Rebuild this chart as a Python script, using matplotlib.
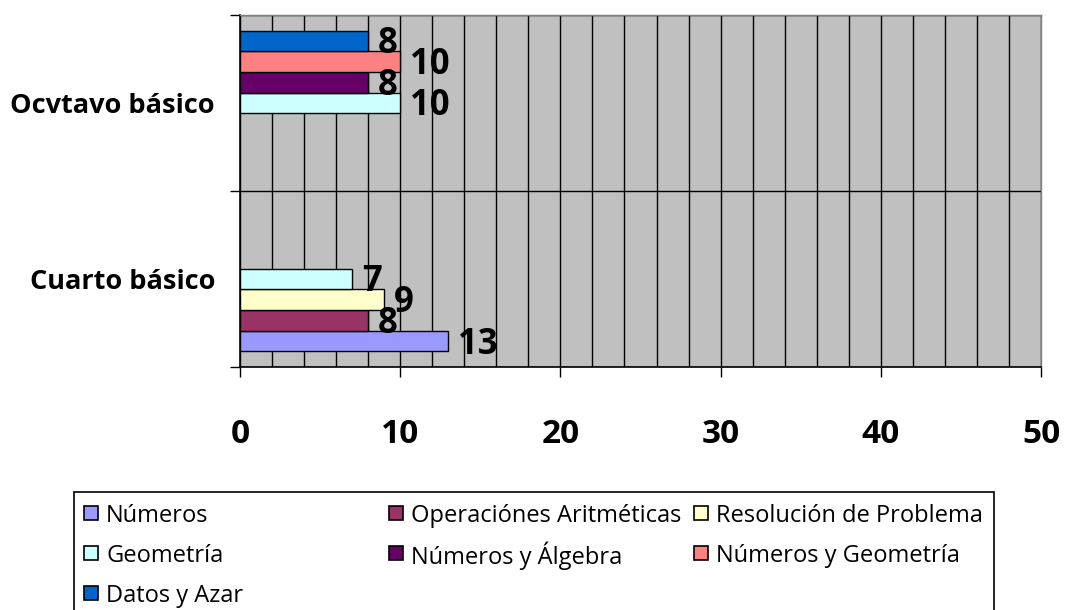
import matplotlib
matplotlib.use("Agg")
import matplotlib.pyplot as plt
import numpy as np
from matplotlib.patches import Rectangle

plt.rcParams["font.family"] = ["Open Sans", "DejaVu Sans"]

categories = ["Cuarto básico", "Ocvtavo básico"]
series = [
    "Números",
    "Operaciónes Aritméticas",
    "Resolución de Problema",
    "Geometría",
    "Números y Álgebra",
    "Números y Geometría",
    "Datos y Azar",
]
colors = ["#9999FF", "#993366", "#FFFFCC", "#CCFFFF", "#660066", "#FF8080", "#0066CC"]
# None = blank cell (no bar, no label)
values = {
    "Números": [13, None],
    "Operaciónes Aritméticas": [8, None],
    "Resolución de Problema": [9, None],
    "Geometría": [7, 10],
    "Números y Álgebra": [None, 8],
    "Números y Geometría": [None, 10],
    "Datos y Azar": [None, 8],
}
x_ticks = [0, 10, 20, 30, 40, 50]

W, H = 1065, 610
fig = plt.figure(figsize=(W / 100, H / 100), dpi=100)
ax = fig.add_axes([240 / W, (H - 367) / H, 801 / W, 352 / H])
ax.set_facecolor("#C0C0C0")

n = len(series)
slot = 1 / (n + 1.5)
for k, name in enumerate(series):
    vals = np.array([np.nan if v is None else v for v in values[name]], dtype=float)
    ys = np.arange(len(categories)) + 0.75 * slot + (k + 0.5) * slot
    ax.barh(ys, vals, height=slot, color=colors[k], edgecolor="black", linewidth=1, zorder=3)
    for y, v in zip(ys, vals):
        if not np.isnan(v):
            ax.annotate(f"{v:g}", (v, y), xytext=(7, -2.5), textcoords="offset points",
                        ha="left", va="center", fontsize=25, fontweight="bold", zorder=4)

ax.set_xlim(0, 50)
ax.set_ylim(0, len(categories))

ax.set_xticks(x_ticks)
ax.set_xticks(np.arange(0, 51, 2), minor=True)
ax.tick_params(axis="x", which="major", direction="out", length=7.5, width=1,
               pad=29, labelsize=24)
ax.tick_params(axis="x", which="minor", length=0)
for lbl in ax.get_xticklabels():
    lbl.set_fontweight("bold")

ax.set_yticks([0, 1, 2])
ax.set_yticklabels([])
ax.set_yticks([0.5, 1.5], minor=True)
ax.set_yticklabels(categories, minor=True, fontsize=19.5, fontweight="bold")
ax.tick_params(axis="y", which="major", direction="out", length=7.5, width=1)
ax.tick_params(axis="y", which="minor", length=0, pad=18)

ax.xaxis.grid(True, which="both", color="black", linewidth=1)
ax.yaxis.grid(True, which="major", color="black", linewidth=1)
ax.set_axisbelow(True)

for side in ["left", "bottom"]:
    ax.spines[side].set_color("black")
    ax.spines[side].set_linewidth(1.2)
for side in ["top", "right"]:
    ax.spines[side].set_color("#808080")
    ax.spines[side].set_linewidth(1)

# legend drawn by hand so the three columns have equal widths, like Excel's
def px(x, y):
    return x / W, 1 - y / H

box_l, box_t, box_r, box_b = 74, 492, 994, 640
fig.patches.append(Rectangle(px(box_l, box_b), (box_r - box_l) / W, (box_b - box_t) / H,
                             transform=fig.transFigure, facecolor="white",
                             edgecolor="black", linewidth=1.2, zorder=1))
col_x = [84, 389, 694]
row_y = [513, 553, 593]
msize = 14
for i, (name, c) in enumerate(zip(series, colors)):
    mx, my = col_x[i % 3], row_y[i // 3]
    fig.patches.append(Rectangle(px(mx, my + msize / 2), msize / W, msize / H,
                                 transform=fig.transFigure, facecolor=c,
                                 edgecolor="black", linewidth=1.2, zorder=2))
    fig.text(*px(mx + 22, my), name, fontsize=17, ha="left", va="center_baseline")

fig.savefig("out.png", dpi=100)
